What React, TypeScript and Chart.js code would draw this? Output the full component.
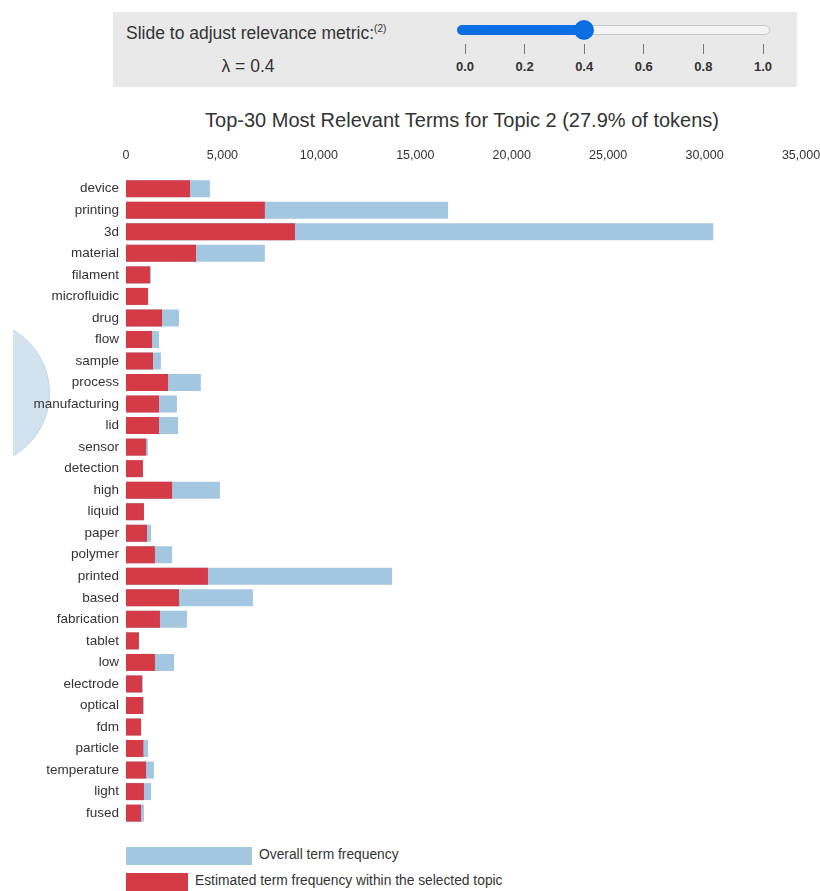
import React, { useEffect, useRef } from "react";
import { Chart, registerables } from "chart.js";
Chart.register(...registerables);

const terms = [
  "device", "printing", "3d", "material", "filament", "microfluidic", "drug", "flow", "sample", "process",
  "manufacturing", "lid", "sensor", "detection", "high", "liquid", "paper", "polymer", "printed", "based",
  "fabrication", "tablet", "low", "electrode", "optical", "fdm", "particle", "temperature", "light", "fused",
];
const overallFreq = [
  4350, 16700, 30450, 7200, 1300, 1150, 2750, 1710, 1810, 3880,
  2640, 2700, 1140, 880, 4870, 930, 1300, 2390, 13800, 6580,
  3160, 680, 2490, 880, 930, 780, 1140, 1450, 1300, 930,
];
const topicFreq = [
  3320, 7200, 8760, 3630, 1240, 1140, 1870, 1350, 1400, 2180,
  1710, 1710, 1040, 880, 2390, 930, 1090, 1500, 4250, 2750,
  1760, 670, 1500, 830, 880, 780, 900, 1040, 930, 780,
];
const xTicks = [0, 5000, 10000, 15000, 20000, 25000, 30000, 35000];
const lambdaTicks = ["0.0", "0.2", "0.4", "0.6", "0.8", "1.0"];
const lambdaValue = 0.4;

const FONT = "'Liberation Sans', Arial, sans-serif";
const BLUE = "#a3c7e1";
const RED = "#d53b47";

function Slider() {
  const left = 457;
  const right = 770;
  const t0 = 465;
  const t1 = 763;
  const thumbX = t0 + (t1 - t0) * lambdaValue;
  return (
    <>
      <div style={{ position: "absolute", left: left, top: 25, width: right - left, height: 10, borderRadius: 5, background: "#f4f4f4", border: "1px solid #c8c8c8", boxSizing: "border-box" }} />
      <div style={{ position: "absolute", left: left, top: 25, width: thumbX - left, height: 10, borderRadius: 5, background: "#0b6fe3" }} />
      <div style={{ position: "absolute", left: thumbX - 10, top: 20, width: 20, height: 20, borderRadius: 10, background: "#0b6fe3" }} />
      {lambdaTicks.map((t, i) => {
        const x = t0 + ((t1 - t0) * i) / (lambdaTicks.length - 1);
        return (
          <React.Fragment key={t}>
            <div style={{ position: "absolute", left: x - 0.5, top: 44, width: 1, height: 10, background: "#777" }} />
            <div style={{ position: "absolute", left: x - 20, width: 40, top: 59, textAlign: "center", fontSize: 13, fontWeight: "bold", color: "#333", fontFamily: FONT }}>{t}</div>
          </React.Fragment>
        );
      })}
    </>
  );
}

export default function App() {
  const canvasRef = useRef<HTMLCanvasElement | null>(null);

  useEffect(() => {
    const canvas = canvasRef.current;
    if (!canvas) return;
    const chart = new Chart(canvas, {
      type: "bar",
      data: {
        labels: terms,
        datasets: [
          { label: "Estimated term frequency within the selected topic", data: topicFreq, backgroundColor: RED, grouped: false, order: 0, barPercentage: 0.79, categoryPercentage: 1 } as any,
          { label: "Overall term frequency", data: overallFreq, backgroundColor: BLUE, grouped: false, order: 1, barPercentage: 0.79, categoryPercentage: 1 } as any,
        ],
      },
      options: {
        indexAxis: "y",
        animation: false,
        responsive: false,
        maintainAspectRatio: false,
        layout: { padding: { left: 0, right: 19, top: 0, bottom: 7 } },
        plugins: { legend: { display: false }, tooltip: { enabled: false }, title: { display: false } },
        scales: {
          x: {
            position: "top",
            min: 0,
            max: 35000,
            afterBuildTicks: (s: any) => { s.ticks = xTicks.map((v) => ({ value: v })); },
            grid: { display: false, drawTicks: false },
            border: { display: false },
            ticks: {
              font: { size: 12.5, family: FONT },
              color: "#333",
              padding: 15,
              maxRotation: 0,
              callback: (v: any) => Number(v).toLocaleString("en-US"),
            },
            afterFit: (s: any) => { s.height = 46; s.paddingRight = 0; s.paddingLeft = 0; },
          },
          y: {
            grid: { display: false, drawTicks: false },
            border: { display: false },
            ticks: { font: { size: 13.5, family: FONT }, color: "#333", padding: 7, autoSkip: false },
            afterFit: (s: any) => { s.width = 126; },
          },
        },
      } as any,
    });
    return () => chart.destroy();
  }, []);

  return (
    <div style={{ position: "fixed", left: 0, top: 0, width: 820, height: 891, background: "#fff", overflow: "hidden", fontFamily: FONT }}>
      {/* control panel */}
      <div style={{ position: "absolute", left: 113, top: 12, width: 684, height: 75, background: "#e9e9e9" }} />
      <div style={{ position: "absolute", left: 126, top: 23, fontSize: 17.5, color: "#333", whiteSpace: "nowrap" }}>
        Slide to adjust relevance metric:<sup style={{ fontSize: 10 }}>(2)</sup>
      </div>
      <div style={{ position: "absolute", left: 188, width: 120, top: 56, textAlign: "center", fontSize: 17.5, color: "#333" }}>
        λ = {lambdaValue}
      </div>
      <Slider />

      {/* partial topic circle */}
      <div style={{ position: "absolute", left: 13, top: 300, width: 60, height: 200, overflow: "hidden" }}>
        <div style={{ position: "absolute", left: -109, top: 93 - 73, width: 146, height: 146, borderRadius: 73, background: "#d2e3ef", border: "1px solid #c5d5e0", boxSizing: "border-box" }} />
      </div>

      {/* title */}
      <div style={{ position: "absolute", left: 162, width: 600, top: 109, textAlign: "center", fontSize: 20, color: "#333", whiteSpace: "nowrap" }}>
        Top-30 Most Relevant Terms for Topic 2 (27.9% of tokens)
      </div>

      <canvas ref={canvasRef} width={820} height={707} style={{ position: "absolute", left: 0, top: 132, width: 820, height: 707 }} />

      {/* legend */}
      <div style={{ position: "absolute", left: 126, top: 847, width: 126, height: 18, background: BLUE }} />
      <div style={{ position: "absolute", left: 259, top: 847, fontSize: 13.8, color: "#333", whiteSpace: "nowrap" }}>Overall term frequency</div>
      <div style={{ position: "absolute", left: 126, top: 873, width: 62, height: 18, background: RED }} />
      <div style={{ position: "absolute", left: 195, top: 873, fontSize: 13.8, color: "#333", whiteSpace: "nowrap" }}>Estimated term frequency within the selected topic</div>
    </div>
  );
}
